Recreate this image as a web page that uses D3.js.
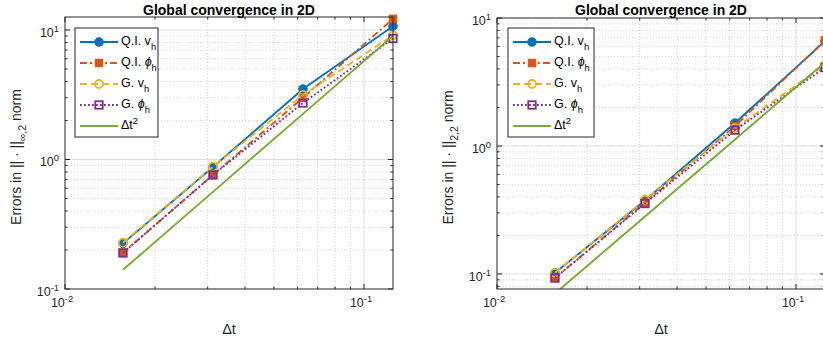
<!DOCTYPE html>
<html>
<head>
<meta charset="utf-8">
<script src="https://cdn.jsdelivr.net/npm/d3@7"></script>
<style>
  body { margin: 0; background: #fff; }
  svg { display: block; font-family: "Liberation Sans", Arial, Helvetica, sans-serif; }
</style>
</head>
<body>
<svg id="chart" width="823" height="342"></svg>
<script>
// Time step sizes used in the refinement study
const timeSteps = [1/64, 1/32, 1/16, 1/8];

// Errors in the infinity-2 norm
const infQIv   = [0.225, 0.875, 3.5, 10.7];
const infQIphi = [0.19, 0.76, 3.0, 12.2];
const infGv    = [0.228, 0.88, 3.15, 9.1];
const infGphi  = [0.19, 0.76, 2.73, 8.6];
const infRef   = [0.1406, 0.5625, 2.25, 9.0];

// Errors in the 2-2 norm
const l2QIv   = [0.102, 0.375, 1.51, 6.6];
const l2QIphi = [0.093, 0.36, 1.43, 6.7];
const l2Gv    = [0.102, 0.38, 1.38, 4.3];
const l2Gphi  = [0.093, 0.355, 1.33, 4.1];
const l2Ref   = [0.0703, 0.28125, 1.125, 4.5];

const seriesLabels = ["Q.I. v_h", "Q.I. ϕ_h", "G. v_h", "G. ϕ_h", "Δt^2"];
const xTickValues = [0.01, 0.1];

const chartTitle = "Global convergence in 2D";
const xLabel = "Δt";

// Line styles: MATLAB default colour order
const styles = [
  { color: "#0072BD", dash: null,      marker: "circle", filled: true },
  { color: "#D95319", dash: "7,3,2,3", marker: "square", filled: true },
  { color: "#EDB120", dash: "7,4",     marker: "circle", filled: false },
  { color: "#7E2F8E", dash: "1.8,2.2", marker: "square", filled: false },
  { color: "#77AC30", dash: null,      marker: null }
];

const axisColor = "#262626";
const svg = d3.select("#chart");

// Writes a label with _x subscripts and ^x superscripts as tspans
function richText(text, str, size) {
  const parts = [];
  const re = /([_^])(\{[^}]*\}|.)/g;
  let last = 0, m;
  while ((m = re.exec(str)) !== null) {
    if (m.index > last) parts.push({ t: str.slice(last, m.index), k: "n" });
    let s = m[2];
    if (s[0] === "{") s = s.slice(1, -1);
    parts.push({ t: s, k: m[1] === "_" ? "sub" : "sup" });
    last = re.lastIndex;
  }
  if (last < str.length) parts.push({ t: str.slice(last), k: "n" });
  let shift = 0;
  parts.forEach(p => {
    const target = p.k === "sub" ? size * 0.38 : p.k === "sup" ? -size * 0.42 : 0;
    const fs = p.k === "n" ? size : size * 0.75;
    // Greek phi is set in italic
    const chunks = p.t.split(/(ϕ)/).filter(c => c);
    chunks.forEach((c, ci) => {
      const sp = text.append("tspan").attr("font-size", fs)
        .attr("font-style", c === "ϕ" ? "italic" : null).text(c);
      if (ci === 0) sp.attr("dy", target - shift);
    });
    shift = target;
  });
}

function drawMarker(g, style, cx, cy) {
  if (style.marker === "circle") {
    g.append("circle").attr("cx", cx).attr("cy", cy).attr("r", style.filled ? 4.3 : 4)
      .attr("fill", style.filled ? style.color : "none")
      .attr("stroke", style.color).attr("stroke-width", style.filled ? 1 : 1.8);
  } else if (style.marker === "square") {
    const s = 7.5;
    g.append("rect").attr("x", cx - s / 2).attr("y", cy - s / 2).attr("width", s).attr("height", s)
      .attr("fill", style.filled ? style.color : "none")
      .attr("stroke", style.color).attr("stroke-width", style.filled ? 1 : 1.8);
  }
}

function drawPanel(opts) {
  const { id, left, top, bottom, width, yDomain, series, yTickValues, yLabelParts, legendBox } = opts;
  const g = svg.append("g");
  const x = d3.scaleLog().domain([0.01, 0.125]).range([left, left + width]);
  const y = d3.scaleLog().domain(yDomain).range([bottom, top]);
  const right = left + width;

  g.append("clipPath").attr("id", "clip-" + id)
    .append("rect").attr("x", left).attr("y", top).attr("width", width).attr("height", bottom - top);

  // Minor grid values between decades, inside each domain
  const minorX = [], minorY = [];
  for (let e = -3; e <= 2; e++) {
    for (let k = 2; k <= 9; k++) {
      const v = k * Math.pow(10, e);
      if (v > x.domain()[0] && v < x.domain()[1]) minorX.push(v);
      if (v > y.domain()[0] && v < y.domain()[1]) minorY.push(v);
    }
  }

  const grid = g.append("g");
  grid.selectAll(".mgx").data(minorX).join("line")
    .attr("x1", d => x(d)).attr("x2", d => x(d)).attr("y1", top).attr("y2", bottom)
    .attr("stroke", "#c4c4c4").attr("stroke-width", 0.8).attr("stroke-dasharray", "1,2");
  grid.selectAll(".mgy").data(minorY).join("line")
    .attr("y1", d => y(d)).attr("y2", d => y(d)).attr("x1", left).attr("x2", right)
    .attr("stroke", "#c4c4c4").attr("stroke-width", 0.8).attr("stroke-dasharray", "1,2");
  grid.selectAll(".Mgx").data(xTickValues.filter(v => v > x.domain()[0] && v < x.domain()[1])).join("line")
    .attr("x1", d => x(d)).attr("x2", d => x(d)).attr("y1", top).attr("y2", bottom)
    .attr("stroke", "#dedede").attr("stroke-width", 1);
  grid.selectAll(".Mgy").data(yTickValues.filter(v => v > y.domain()[0] && v < y.domain()[1])).join("line")
    .attr("y1", d => y(d)).attr("y2", d => y(d)).attr("x1", left).attr("x2", right)
    .attr("stroke", "#dedede").attr("stroke-width", 1);

  // Tick marks on all four sides, pointing inward
  const tk = g.append("g").attr("stroke", axisColor).attr("stroke-width", 1);
  xTickValues.concat(minorX).forEach(v => {
    const L = xTickValues.includes(v) ? 5 : 2.5;
    tk.append("line").attr("x1", x(v)).attr("x2", x(v)).attr("y1", bottom).attr("y2", bottom - L);
    tk.append("line").attr("x1", x(v)).attr("x2", x(v)).attr("y1", top).attr("y2", top + L);
  });
  yTickValues.concat(minorY).forEach(v => {
    const L = yTickValues.includes(v) ? 5 : 2.5;
    tk.append("line").attr("y1", y(v)).attr("y2", y(v)).attr("x1", left).attr("x2", left + L);
    tk.append("line").attr("y1", y(v)).attr("y2", y(v)).attr("x1", right).attr("x2", right - L);
  });

  // Data lines then markers, series by series
  const line = d3.line().x((d, i) => x(timeSteps[i])).y(d => y(d));
  series.forEach((vals, si) => {
    const st = styles[si];
    const sg = g.append("g");
    sg.append("path").attr("d", line(vals)).attr("clip-path", `url(#clip-${id})`)
      .attr("fill", "none").attr("stroke", st.color).attr("stroke-width", 1.9)
      .attr("stroke-dasharray", st.dash);
    if (st.marker) vals.forEach((v, i) => drawMarker(sg, st, x(timeSteps[i]), y(v)));
  });

  // Axes box
  g.append("rect").attr("x", left).attr("y", top).attr("width", width).attr("height", bottom - top)
    .attr("fill", "none").attr("stroke", axisColor).attr("stroke-width", 1);

  // Tick labels
  const tickFont = 12.5;
  xTickValues.forEach(v => {
    const t = g.append("text").attr("x", x(v) - 3).attr("y", bottom + 18)
      .attr("text-anchor", "middle").attr("fill", axisColor);
    richText(t, "10^{" + Math.round(Math.log10(v)) + "}", tickFont);
  });
  yTickValues.forEach(v => {
    const t = g.append("text").attr("x", left - 6).attr("y", y(v) + 7)
      .attr("text-anchor", "end").attr("fill", axisColor);
    richText(t, "10^{" + Math.round(Math.log10(v)) + "}", tickFont);
  });

  // Title and axis labels
  g.append("text").attr("x", (left + right) / 2).attr("y", 14.5).attr("text-anchor", "middle")
    .attr("font-weight", "bold").attr("font-size", 14).attr("fill", "#000").text(chartTitle);
  const xl = g.append("text").attr("x", (left + right) / 2).attr("y", 334)
    .attr("text-anchor", "middle").attr("fill", axisColor);
  richText(xl, xLabel, 14.5);
  const yl = g.append("text")
    .attr("transform", `translate(${opts.yLabelX},${(top + bottom) / 2 + 4}) rotate(-90)`)
    .attr("text-anchor", "middle").attr("fill", axisColor);
  richText(yl, yLabelParts, 14);

  // Legend
  const lg = g.append("g");
  lg.append("rect").attr("x", legendBox.x).attr("y", legendBox.y).attr("width", legendBox.w).attr("height", legendBox.h)
    .attr("fill", "#fff").attr("stroke", axisColor).attr("stroke-width", 1);
  seriesLabels.forEach((lab, i) => {
    const cy = legendBox.y + 14 + i * 21;
    const x1 = legendBox.x + 5, x2 = legendBox.x + 43;
    const st = styles[i];
    lg.append("line").attr("x1", x1).attr("x2", x2).attr("y1", cy).attr("y2", cy)
      .attr("stroke", st.color).attr("stroke-width", 1.9).attr("stroke-dasharray", st.dash);
    if (st.marker) drawMarker(lg, st, (x1 + x2) / 2, cy);
    const t = lg.append("text").attr("x", legendBox.x + 46).attr("y", cy + 3)
      .attr("fill", "#000");
    richText(t, lab, 12.5);
  });
}

drawPanel({
  id: "inf", left: 65, top: 17, bottom: 289, width: 328,
  yDomain: [0.1, 12.6],
  yTickValues: [0.1, 1, 10],
  series: [infQIv, infQIphi, infGv, infGphi, infRef],
  yLabelX: 21,
  yLabelParts: "Errors in || · ||_{∞,2} norm",
  legendBox: { x: 75, y: 28, w: 83, h: 109 }
});

drawPanel({
  id: "l2", left: 497, top: 18, bottom: 289, width: 328,
  yDomain: [0.0763, 10],
  yTickValues: [0.1, 1, 10],
  series: [l2QIv, l2QIphi, l2Gv, l2Gphi, l2Ref],
  yLabelX: 453,
  yLabelParts: "Errors in || · ||_{2,2} norm",
  legendBox: { x: 508, y: 28, w: 86, h: 109 }
});
</script>
</body>
</html>
